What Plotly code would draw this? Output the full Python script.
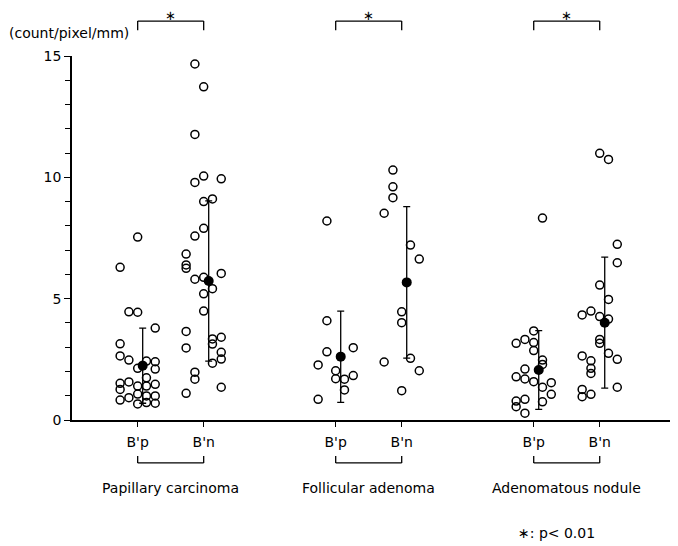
import plotly.graph_objects as go

# ---------------- data ----------------
groups = ["Papillary carcinoma", "Follicular adenoma", "Adenomatous nodule"]
tick_labels = ["B'p", "B'n"]
significance = ["\u2217", "\u2217", "\u2217"]
axis_title = "(count/pixel/mm)"
footnote = "\u2217: p< 0.01"

# Papillary carcinoma
pc_bp_values = [7.54, 6.29, 4.46, 4.44, 3.79, 3.14, 2.64, 2.47, 2.13, 2.43, 2.40, 2.10,
                1.51, 1.57, 1.40, 1.40, 1.47, 1.74, 1.26, 0.82, 0.92, 0.66, 1.07, 0.99,
                0.99, 0.69, 0.72]
pc_bp_slots = [0, -2, -1, 0, 2, -2, -2, -1, 0, 1, 2, 2,
               -2, -1, 0, 1, 2, 1, -2, -2, -1, 0, 0, 1,
               2, 2, 1]
pc_bn_values = [14.67, 13.73, 11.77, 10.05, 9.79, 9.94, 9.00, 9.11, 7.90, 7.58, 6.84, 6.39,
                6.25, 5.80, 5.88, 6.04, 5.41, 5.20, 4.49, 3.65, 2.97, 3.34, 3.41, 2.79,
                2.51, 3.13, 2.34, 1.97, 1.68, 1.10, 1.35]
pc_bn_slots = [-1, 0, -1, 0, -1, 2, 0, 1, 0, -1, -2, -2,
               -2, -1, 0, 2, 1, 0, 0, -2, -2, 1, 2, 2,
               2, 1, 1, -1, -1, -2, 2]

# Follicular adenoma
fa_bp_values = [8.20, 4.09, 2.81, 2.98, 2.27, 2.03, 1.70, 1.68, 1.83, 1.24, 0.85]
fa_bp_slots = [-1, -1, -1, 2, -2, 0, 0, 1, 2, 1, -2]
fa_bn_values = [10.30, 9.61, 9.16, 8.52, 7.21, 6.63, 4.46, 4.01, 2.39, 2.54, 2.03, 1.21]
fa_bn_slots = [-1, -1, -1, -2, 1, 2, 0, 0, -2, 1, 2, 0]

# Adenomatous nodule
an_bp_values = [8.32, 3.67, 3.16, 3.32, 3.19, 2.86, 2.47, 2.29, 2.10, 1.78, 1.69, 1.58,
                1.35, 1.54, 1.06, 0.75, 0.78, 0.85, 0.55, 0.28]
an_bp_slots = [1, 0, -2, -1, 0, 0, 1, 1, -1, -2, -1, 0,
               1, 2, 2, 1, -2, -1, -2, -1]
an_bn_values = [10.99, 10.74, 7.24, 6.48, 5.56, 4.97, 4.49, 4.33, 4.26, 4.16, 3.32, 3.16,
                2.75, 2.64, 2.44, 2.50, 2.13, 1.92, 1.35, 1.26, 1.06, 0.96]
an_bn_slots = [0, 1, 2, 2, 0, 1, -1, -2, 0, 1, 0, 0,
               1, -2, -1, 2, -1, -1, 2, -2, -1, -2]

# mean and SD for each strip, in order PC B'p, PC B'n, FA B'p, FA B'n, AN B'p, AN B'n
mean_values = [2.24, 5.73, 2.61, 5.67, 2.06, 4.01]
sd_values = [1.55, 3.30, 1.88, 3.12, 1.62, 2.70]

strips = [
    (pc_bp_values, pc_bp_slots), (pc_bn_values, pc_bn_slots),
    (fa_bp_values, fa_bp_slots), (fa_bn_values, fa_bn_slots),
    (an_bp_values, an_bp_slots), (an_bn_values, an_bn_slots),
]

# ---------------- layout helpers ----------------
GROUP_STEP = 3          # category slots between groups
SLOT_W = 0.133          # width of one dot column (data units)
MEAN_SHIFT = 0.076      # mean/SD bar drawn slightly right of the tick
XMIN, XMAX = -0.995, 8.186
FONT = dict(family="DejaVu Sans", size=14, color="black")

positions = []
for gi in range(len(groups)):
    for ci in range(len(tick_labels)):
        positions.append(gi * GROUP_STEP + ci)


def px(d):
    return (d - XMIN) / (XMAX - XMIN)


fig = go.Figure()

for pos, (vals, slots) in zip(positions, strips):
    fig.add_trace(go.Scatter(
        x=[pos + s * SLOT_W for s in slots], y=vals, mode="markers",
        marker=dict(symbol="circle", size=8, color="rgba(0,0,0,0)",
                    line=dict(color="black", width=1.5)),
        showlegend=False, hoverinfo="y", cliponaxis=False))

fig.add_trace(go.Scatter(
    x=[p + MEAN_SHIFT for p in positions], y=mean_values, mode="markers",
    marker=dict(symbol="circle", size=10, color="black"),
    error_y=dict(type="data", array=sd_values, visible=True,
                 color="black", thickness=1.3, width=3.5),
    showlegend=False, cliponaxis=False))

shapes = []
annotations = []
line_style = dict(color="black", width=1.3)
for gi, gname in enumerate(groups):
    a = positions[gi * 2]
    b = positions[gi * 2 + 1]
    xa, xb = px(a), px(b)
    # top significance bracket
    y_top, y_end = 1.096, 1.071
    shapes += [
        dict(type="line", xref="paper", yref="paper", x0=xa, x1=xb, y0=y_top, y1=y_top, line=line_style),
        dict(type="line", xref="paper", yref="paper", x0=xa, x1=xa, y0=y_top, y1=y_end, line=line_style),
        dict(type="line", xref="paper", yref="paper", x0=xb, x1=xb, y0=y_top, y1=y_end, line=line_style),
    ]
    annotations.append(dict(text=significance[gi], xref="paper", yref="paper",
                            x=(xa + xb) / 2, y=1.111, showarrow=False, borderpad=0,
                            font=dict(family="DejaVu Sans", size=13, color="black"),
                            xanchor="center", yanchor="middle"))
    # bottom group bracket
    y_b, y_v = -0.118, -0.099
    shapes += [
        dict(type="line", xref="paper", yref="paper", x0=xa, x1=xb, y0=y_b, y1=y_b, line=line_style),
        dict(type="line", xref="paper", yref="paper", x0=xa, x1=xa, y0=y_b, y1=y_v, line=line_style),
        dict(type="line", xref="paper", yref="paper", x0=xb, x1=xb, y0=y_b, y1=y_v, line=line_style),
    ]
    annotations.append(dict(text=gname, xref="paper", yref="paper",
                            x=(xa + xb) / 2, y=-0.187, showarrow=False, font=FONT,
                            xanchor="center", yanchor="middle"))

annotations.append(dict(text=axis_title, xref="paper", yref="paper",
                        x=-0.107, y=1.063, showarrow=False, font=FONT,
                        xanchor="left", yanchor="middle"))
annotations.append(dict(text=footnote, xref="paper", yref="paper",
                        x=px(6.35), y=-0.311, showarrow=False, font=FONT,
                        xanchor="center", yanchor="middle"))

# the page adds an 8px body margin, so the figure is 8px smaller on each axis
fig.update_layout(
    width=670, height=538,
    margin=dict(l=64, r=0, t=48, b=126),
    paper_bgcolor="white", plot_bgcolor="white",
    shapes=shapes, annotations=annotations,
    xaxis=dict(range=[XMIN, XMAX], showgrid=False, zeroline=False,
               showline=True, linecolor="black", linewidth=1.5,
               ticks="outside", ticklen=5, tickwidth=1.3, tickcolor="black",
               tickvals=positions, ticktext=tick_labels * len(groups),
               tickfont=FONT, ticklabelstandoff=3),
    yaxis=dict(range=[0, 15], showgrid=False, zeroline=False,
               showline=True, linecolor="black", linewidth=1.5,
               ticks="outside", ticklen=6, tickwidth=1.3, tickcolor="black",
               tickvals=[0, 5, 10, 15], tickfont=FONT,
               minor=dict(dtick=1, ticks="outside", ticklen=5, tickwidth=1.2,
                          tickcolor="black", showgrid=False)),
)

fig.write_html("out.html")
